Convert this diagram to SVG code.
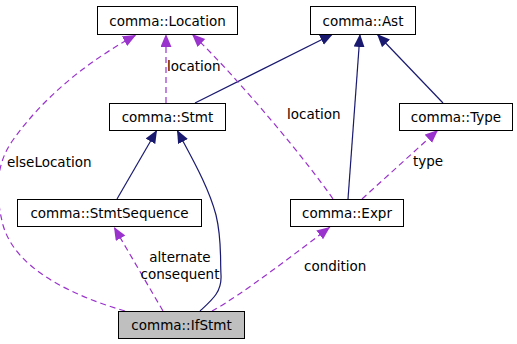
<svg xmlns="http://www.w3.org/2000/svg" width="517" height="344" viewBox="0 0 517 344">
<style>
.box{fill:#fff;stroke:#000;stroke-width:1}
.cur{fill:#bfbfbf}
text{font-family:"DejaVu Sans",sans-serif;font-size:13.5px;fill:#000}
.nt{text-anchor:middle}
.inh{fill:none;stroke:#191970;stroke-width:1.2}
.use{fill:none;stroke:#9a32cd;stroke-width:1.2;stroke-dasharray:6,4}
</style>
<defs>
<marker id="an" markerUnits="userSpaceOnUse" markerWidth="14" markerHeight="12" refX="13" refY="5.5" orient="auto"><path d="M0,0 L13,5.5 L0,11 z" fill="#191970"/></marker>
<marker id="ap" markerUnits="userSpaceOnUse" markerWidth="14" markerHeight="12" refX="13" refY="5.5" orient="auto"><path d="M0,0 L13,5.5 L0,11 z" fill="#9a32cd"/></marker>
</defs>
<g id="connectors">
<path class="inh" d="M195,103 L333,34" marker-end="url(#an)"/>
<path class="inh" d="M348,199 L360,34" marker-end="url(#an)"/>
<path class="inh" d="M443,103 L377,34" marker-end="url(#an)"/>
<path class="inh" d="M117,199 L157,130" marker-end="url(#an)"/>
<path class="inh" d="M200,311 C212,300 222,292 221,275 C220,258 222,240 216,215 C208,185 190,155 177,130" marker-end="url(#an)"/>
<path class="use" d="M166,103 L166,34" marker-end="url(#ap)"/>
<path class="use" d="M333,199 C310,165 240,80 192,34" marker-end="url(#ap)"/>
<path class="use" d="M362,199 L438,130" marker-end="url(#ap)"/>
<path class="use" d="M125,311 C70,295 15,268 3,225 C-6,190 -3,162 13,140 C45,95 90,60 136,35" marker-end="url(#ap)"/>
<path class="use" d="M163,311 L114,227" marker-end="url(#ap)"/>
<path class="use" d="M212,311 C240,296 300,250 330,227" marker-end="url(#ap)"/>
<text x="167" y="71">location</text>
<text x="287" y="119">location</text>
<text x="413" y="166">type</text>
<text x="7" y="167">elseLocation</text>
<text x="180" y="262" class="nt">alternate</text>
<text x="180" y="279" class="nt">consequent</text>
<text x="304" y="271">condition</text>
</g>
<g id="Location"><rect class="box" x="97.5" y="6.5" width="140" height="28"/><text class="nt" x="167.5" y="25.5">comma::Location</text></g>
<g id="Ast"><rect class="box" x="310.5" y="6.5" width="105" height="28"/><text class="nt" x="363" y="25.5">comma::Ast</text></g>
<g id="Stmt"><rect class="box" x="109.5" y="103.5" width="116" height="27"/><text class="nt" x="167.5" y="122">comma::Stmt</text></g>
<g id="Type"><rect class="box" x="399.5" y="103.5" width="113" height="27"/><text class="nt" x="456" y="122">comma::Type</text></g>
<g id="StmtSequence"><rect class="box" x="17.5" y="199.5" width="184" height="27"/><text class="nt" x="109.5" y="218">comma::StmtSequence</text></g>
<g id="Expr"><rect class="box" x="290.5" y="199.5" width="113" height="27"/><text class="nt" x="347" y="218">comma::Expr</text></g>
<g id="IfStmt"><rect class="box cur" x="118.5" y="311.5" width="126" height="27"/><text class="nt" x="181.5" y="330">comma::IfStmt</text></g>
</svg>
